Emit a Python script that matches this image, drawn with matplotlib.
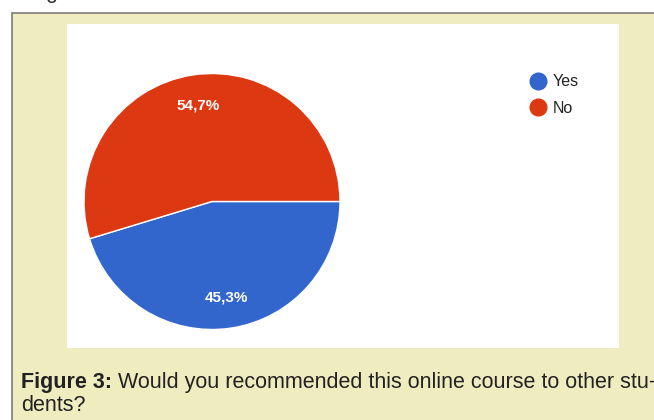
import matplotlib
matplotlib.use("Agg")
from matplotlib import pyplot as plt
from matplotlib.patches import Rectangle
from matplotlib.lines import Line2D

labels = ["Yes", "No"]
values = [45.3, 54.7]
colors = ["#3366cc", "#dc3912"]
caption_bold = "Figure 3:"
caption_rest = " Would you recommended this online course to other stu-"
caption_line2 = "dents?"

W, H = 654, 420
plt.rcParams["font.family"] = ["Liberation Sans", "DejaVu Sans"]

fig = plt.figure(figsize=(W / 100, H / 100), dpi=100, facecolor="white")

def fx(px):
    return px / W

def fy(py):
    return 1 - py / H

# beige box with grey border
fig.patches.append(Rectangle((fx(11.5), fy(430)), fx(700), (430 - 13.5) / H,
                             transform=fig.transFigure, facecolor="#efedc0",
                             edgecolor="#7a7a7a", linewidth=1.2, zorder=0))
# white chart panel
fig.patches.append(Rectangle((fx(67), fy(348)), fx(619 - 67), (348 - 24) / H,
                             transform=fig.transFigure, facecolor="white",
                             edgecolor="none", zorder=1))

# axes in pixel units over the white panel
ax = fig.add_axes([fx(67), fy(348), fx(619 - 67), (348 - 24) / H])
ax.set_zorder(3)
cx, cy, r = 212, H - 201.5, 128
wedges, texts, autotexts = ax.pie(
    values, colors=colors, startangle=0, counterclock=False,
    center=(cx, cy), radius=r,
    autopct=lambda p: ("%.1f%%" % p).replace(".", ","), pctdistance=0.76,
    wedgeprops=dict(edgecolor="white", linewidth=1.0),
    textprops=dict(color="white", fontsize=11, fontweight="bold"))
ax.set_xlim(67, 619)
ax.set_ylim(H - 348, H - 24)
ax.set_aspect("auto")
ax.axis("off")

handles = [Line2D([], [], marker="o", linestyle="none", markersize=12,
                  markerfacecolor=c, markeredgecolor=c) for c in colors]
ax.legend(handles, labels, loc="center left", bbox_to_anchor=(fx(520), fy(95)),
          bbox_transform=fig.transFigure, frameon=False, fontsize=11.5,
          handletextpad=0.35, labelspacing=0.7, handlelength=1.2,
          labelcolor="#222222", borderpad=0)

# caption
fs = 15.5
renderer = fig.canvas.get_renderer()
t1 = fig.text(fx(21), fy(388), caption_bold, fontsize=fs, fontweight="bold",
              color="#222222", va="baseline", ha="left")
bb = t1.get_window_extent(renderer)
fig.text(bb.x1 / W, fy(388), caption_rest, fontsize=fs, color="#222222",
         va="baseline", ha="left")
fig.text(fx(21), fy(411), caption_line2, fontsize=fs, color="#222222",
         va="baseline", ha="left")

# cut-off descender from the text above
fig.text(fx(45), fy(-2), "g", fontsize=fs, color="#333333",
         va="baseline", ha="left")

fig.savefig("out.png", dpi=100, facecolor="white")
